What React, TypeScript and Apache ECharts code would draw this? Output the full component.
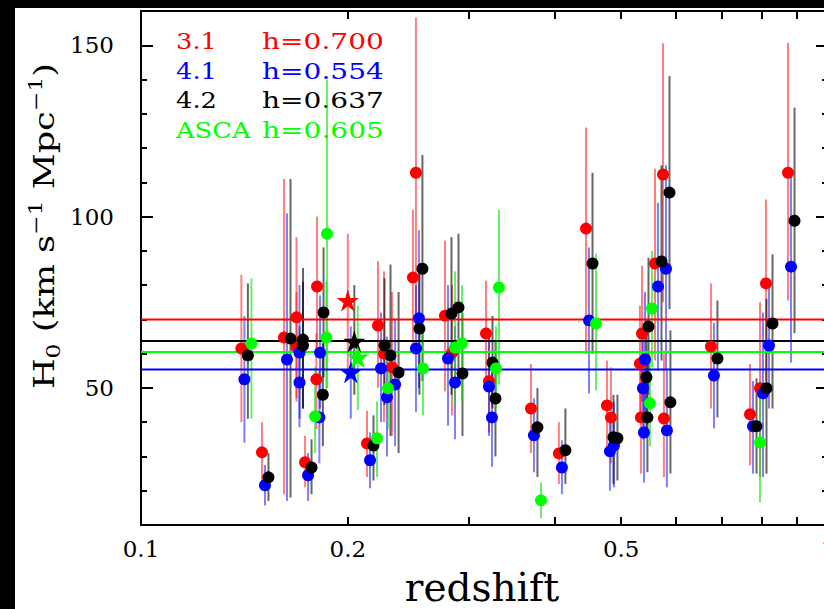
import React, { useEffect, useRef } from 'react';
import * as echarts from 'echarts';

const FONT = '"DejaVu Serif", serif';

// cluster redshifts
const redshift = [0.140, 0.150, 0.1615, 0.1684, 0.1684, 0.1733, 0.1800, 0.1804, 0.2133, 0.2213, 0.2258, 0.2320, 0.2488, 0.2513, 0.2770, 0.2836, 0.2874, 0.3178, 0.3210, 0.3695, 0.4058, 0.4444, 0.4767, 0.4831, 0.5324, 0.5342, 0.5361, 0.5600, 0.5752, 0.5770, 0.6755, 0.7700, 0.7962, 0.8124, 0.8746];

// CIAO 3.1
const h31 = [61.5, 31.2, 64.7, 62, 70.6, 28.3, 52.5, 79.6, 33.8, 68.2, 60, 56, 82.2, 112.8, 71.1, 60.3, null, 65.9, 52, 44, 30.9, 96.5, 44.9, 41.4, 57.1, 41.4, 65.9, 86.3, 112.3, 41.1, 62.1, 42.3, 49.9, 80.5, 112.8];
const h31Lo = [40, 22, 19, 46, 47, 21, 38, 60, 24, 50, 40, 36, 62, 68, 49, 42, null, 49, 37, 31, 22, 60, 32, 28, 40, 25, 46, 58, 75, 24, 44, 27.4, 24, 52, 75.5];
const h31Hi = [83, 40, 111, 78, 94, 36, 66, 100, 43.4, 87, 84, 78, 102, 158, 93, 80, null, 81.3, 66, 57, 40, 126, 58, 56, 74, 57, 85.7, 114, 150.6, 60, 80.5, 57, 75, 105, 150.7];

// CIAO 4.1
const h41 = [52.5, 21.6, 58.3, 51.6, 60.3, 24.5, 41.4, 60.3, 28.9, 55.7, 47.3, 51, 61.5, 70.3, 58.6, 51.6, null, 50.4, 41.4, 36.2, 26.8, 69.7, 31.5, 33.2, 49.9, 37, 58.3, 79.6, 84.8, 37.6, 53.6, 38.8, 48.4, 62.4, 85.4];
const h41Lo = [34, 15.7, 17, 38.5, 41, 17, 28, 44, 20.7, 40, 30, 33, 43, 50, 39, 35, null, 36, 27, 25.4, 19, 48.4, 20, 21, 35, 22.4, 40, 55, 55, 21, 38.2, 25, 24, 44, 57.4];
const h41Hi = [71, 27.5, 101, 68, 80, 31, 55, 77, 37, 72, 65, 70, 80, 96, 80, 68, null, 66, 56, 47, 34.7, 91, 43, 46, 66, 52, 78, 104, 115, 55, 69, 52, 72, 80, 113];

// CIAO 4.2
const h42 = [59.5, 23.9, 64.4, 62.4, 64.1, 26.8, 48, 72, 33.2, 62.4, 59.5, 54.5, 67.3, 84.8, 71.7, 73.5, 54.2, 57.4, 46.9, 38.5, 31.8, 86.3, 35.6, 35.3, 53.1, 41.4, 67.9, 86.9, 107, 45.8, 58.6, 38.8, 49.9, 68.8, 98.8];
const h42Lo = [41, 17, 18, 44, 44, 19, 33, 53, 23, 45, 36, 31, 48, 52, 48, 52, 36, 44, 30, 24, 22, 60, 22, 23, 37, 25.4, 48, 58, 73, 25, 41.4, 25, 25, 44, 66];
const h42Hi = [80.5, 31, 111, 81, 85, 35, 63, 91, 42, 82, 86, 78, 86, 118, 94, 95, 72, 71, 64, 50, 44, 112.8, 48, 48, 70, 58, 88, 115, 141, 66.8, 75.5, 52.8, 76, 89, 131.8];

// ASCA
const hAsca = [63, null, null, null, null, 41.7, 64.7, 95, 35.3, 49.9, null, null, 55.7, null, 61.8, 63, null, 55.7, 79.3, 17.2, null, 68.8, null, null, 45.5, null, 73.2, null, null, null, null, 34.1, null, null, null];
const hAscaLo = [41, null, null, null, null, 31, 48, 50, 24, 38, null, null, 42, null, 45, 46, null, 44, 51, 12, null, 49.3, null, null, 33, null, 56, null, null, null, null, 16.6, null, null, null];
const hAscaHi = [82, null, null, null, null, 56, 81, 140, 46, 62, null, null, 68, null, 84, 80, null, 68, 102, 22.4, null, 89.2, null, null, 60, null, 90, null, null, null, null, 52, null, null, null];

// weighted means (stars) at z = 0.2
const starZ = 0.2;
const starH = [75.5, 54.6, 63.6, 59];
const starLo = [55, 41, 48, 43.5];
const starHi = [95, 68, 80, 74];

const setNames = ['3.1', '4.1', '4.2', 'ASCA'];
const hFit = [0.700, 0.554, 0.637, 0.605];
const hLabels = ['h=0.700', 'h=0.554', 'h=0.637', 'h=0.605'];
const setColors = ['#ff0000', '#0000ff', '#000000', '#00ff00'];
const barColors = ['rgba(255,0,0,0.5)', 'rgba(0,0,255,0.5)', 'rgba(0,0,0,0.6)', 'rgba(0,230,0,0.6)'];
const dodgeFactor = [1, 1.0101, 1.022, 1.0341];

const xTickValues = [0.2, 0.3, 0.4, 0.5, 0.6, 0.7, 0.8, 0.9];
const xLabelValues = [0.1, 0.2, 0.5, 1];
const yMajor = [50, 100, 150];
const yMinor = [20, 30, 40, 60, 70, 80, 90, 110, 120, 130, 140];

const STAR = 'path://M50,0 L61.2,34.5 L97.6,34.5 L68.2,55.9 L79.4,90.5 L50,69.1 L20.6,90.5 L31.8,55.9 L2.4,34.5 L38.8,34.5 Z';

export default function App() {
  const ref = useRef<HTMLDivElement>(null);
  useEffect(() => {
    if (!ref.current) return;
    const chart = echarts.init(ref.current, undefined, { renderer: 'svg' });
    const vals = [h31, h41, h42, hAsca];
    const los = [h31Lo, h41Lo, h42Lo, hAscaLo];
    const his = [h31Hi, h41Hi, h42Hi, hAscaHi];
    const series: any[] = [];
    for (let k = 0; k < 4; k++) {
      const err: number[][] = [];
      redshift.forEach((z, i) => {
        if (vals[k][i] != null) err.push([z * dodgeFactor[k], los[k][i] as number, his[k][i] as number]);
      });
      err.push([starZ * dodgeFactor[k], starLo[k], starHi[k]]);
      const col = barColors[k];
      series.push({
        type: 'custom', name: setNames[k] + ' err', silent: true, z: 1,
        encode: { x: 0, y: [1, 2] },
        data: err,
        renderItem: (params: any, api: any) => {
          const a = api.coord([api.value(0), api.value(1)]);
          const b = api.coord([api.value(0), api.value(2)]);
          return { type: 'line', shape: { x1: a[0], y1: a[1], x2: b[0], y2: b[1] }, style: { stroke: col, lineWidth: 2 } };
        },
      });
    }
    for (let k = 0; k < 4; k++) {
      series.push({
        type: 'line', name: setNames[k] + ' fit', silent: true, z: 3, symbol: 'none',
        data: [[0.1, hFit[k] * 100], [1, hFit[k] * 100]],
        lineStyle: { color: setColors[k], width: 2 },
      });
    }
    for (let k = 0; k < 4; k++) {
      const pts: number[][] = [];
      redshift.forEach((z, i) => {
        if (vals[k][i] != null) pts.push([z * dodgeFactor[k], vals[k][i] as number]);
      });
      series.push({
        type: 'scatter', name: setNames[k], z: 4, symbol: 'circle', symbolSize: 12,
        itemStyle: { color: setColors[k], opacity: 1 }, data: pts,
      });
    }
    for (let k = 0; k < 4; k++) {
      series.push({
        type: 'scatter', name: setNames[k] + ' mean', z: 5, symbol: STAR, symbolSize: 22,
        itemStyle: { color: setColors[k], opacity: 1 }, data: [[starZ * dodgeFactor[k], starH[k]]],
      });
    }

    const axisLine = { show: true, onZero: false, lineStyle: { color: '#000', width: 2 } };
    const tickStyle = { color: '#000', width: 2 };
    const xBase = { type: 'log', logBase: 10, min: 0.1, max: 1, splitLine: { show: false }, minorTick: { show: false }, axisLine };
    const yBase = { type: 'value', min: 10, max: 160, splitLine: { show: false }, axisLine };

    const graphic: any[] = [];
    for (let k = 0; k < 4; k++) {
      const y = 33 + k * 29.7;
      graphic.push({ type: 'text', x: 161, y, scaleX: 1.12, style: { text: setNames[k], fill: setColors[k], fontSize: 23, fontFamily: FONT, verticalAlign: 'middle' } });
      graphic.push({ type: 'text', x: 247, y, scaleX: 1.22, style: { text: hLabels[k], fill: setColors[k], fontSize: 23, fontFamily: FONT, verticalAlign: 'middle' } });
    }
    graphic.push({ type: 'text', x: 467, y: 579, style: { text: 'redshift', fill: '#000', fontSize: 39, lineHeight: 39, fontFamily: FONT, align: 'center', verticalAlign: 'middle' } });
    graphic.push({
      type: 'text', x: 30, y: 218, rotation: Math.PI / 2, scaleX: 1.3,
      style: {
        text: '{a|H}{b|0}{a| (km s}{c|\u22121}{a| Mpc}{c|\u22121}{a|)}',
        align: 'center', verticalAlign: 'middle', fill: '#000',
        rich: {
          a: { fontSize: 27, fontFamily: FONT, lineHeight: 36, fill: '#000' },
          b: { fontSize: 18, fontFamily: FONT, lineHeight: 18, verticalAlign: 'bottom', fill: '#000' },
          c: { fontSize: 18, fontFamily: FONT, lineHeight: 18, verticalAlign: 'top', fill: '#000' },
        },
      },
    });

    chart.setOption({
      animation: false,
      backgroundColor: '#ffffff',
      grid: { left: 126, top: 3, right: -4, bottom: 84, containLabel: false, outerBoundsMode: 'none' },
      xAxis: [
        { ...xBase, position: 'bottom',
          axisTick: { show: true, inside: true, length: 8, customValues: xTickValues, lineStyle: tickStyle },
          axisLabel: { show: true, customValues: xLabelValues, margin: 12, color: '#000', fontSize: 23, fontFamily: FONT,
            formatter: (v: number) => { const r = Math.round(v * 10) / 10; return r >= 1 ? '1' : r.toFixed(1); } } },
        { ...xBase, position: 'top',
          axisTick: { show: true, inside: true, length: 8, customValues: xTickValues, lineStyle: tickStyle },
          axisLabel: { show: false } },
      ],
      yAxis: [
        { ...yBase, position: 'left',
          axisTick: { show: true, inside: true, length: 12, customValues: yMajor, lineStyle: tickStyle },
          axisLabel: { show: true, customValues: yMajor, margin: 27, color: '#000', fontSize: 23, fontFamily: FONT } },
        { ...yBase, position: 'left', axisLine: { show: false },
          axisTick: { show: true, inside: true, length: 6, customValues: yMinor, lineStyle: tickStyle },
          axisLabel: { show: false } },
        { ...yBase, position: 'right',
          axisTick: { show: true, inside: true, length: 12, customValues: yMajor, lineStyle: tickStyle },
          axisLabel: { show: false } },
        { ...yBase, position: 'right', axisLine: { show: false },
          axisTick: { show: true, inside: true, length: 6, customValues: yMinor, lineStyle: tickStyle },
          axisLabel: { show: false } },
      ],
      graphic,
      series,
    });
    return () => chart.dispose();
  }, []);

  return (
    <div style={{ position: 'fixed', left: 0, top: 0, width: 824, height: 609, background: '#000', overflow: 'hidden' }}>
      <div ref={ref} style={{ position: 'absolute', left: 15, top: 8, width: 809, height: 601, background: '#fff' }} />
    </div>
  );
}
